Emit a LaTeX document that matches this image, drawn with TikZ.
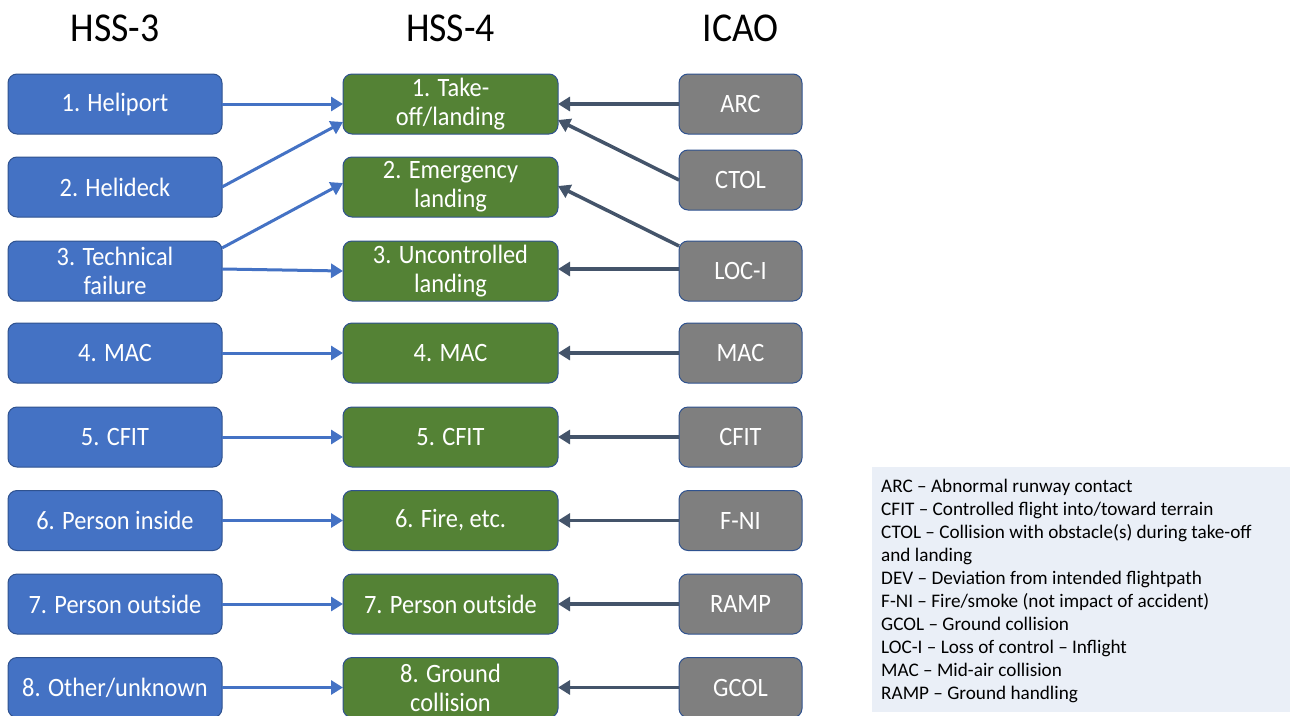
\documentclass[tikz,border=0pt]{standalone}
\usepackage{fontspec}
\setmainfont{Carlito}
\newfontfamily\narrowfont{Carlito}[FakeStretch=0.92]
\usetikzlibrary{arrows.meta}

\definecolor{hssblue}{HTML}{4472C4}
\definecolor{hssgreen}{HTML}{548235}
\definecolor{icaogrey}{HTML}{7F7F7F}
\definecolor{boxedge}{HTML}{2F528F}
\definecolor{slatearrow}{HTML}{44546A}
\definecolor{legendfill}{HTML}{EAEFF7}

\tikzset{
  catbox/.style={draw=boxedge, line width=1pt, rounded corners=9pt,
    minimum height=60pt, inner sep=0pt, outer sep=0pt, text=white,
    align=center, font=\narrowfont\fontsize{26.5}{29}\selectfont},
  hssthree/.style={catbox, fill=hssblue, minimum width=214pt},
  hssfour/.style={catbox, fill=hssgreen, minimum width=215pt},
  icao/.style={catbox, fill=icaogrey, minimum width=123pt},
  coltitle/.style={font=\narrowfont\fontsize{41}{48}\selectfont, inner sep=0pt},
  bluearrow/.style={draw=hssblue, line width=3pt, -{Triangle[length=12pt,width=14pt]}},
  greyarrow/.style={draw=slatearrow, line width=3.5pt, -{Triangle[length=12pt,width=14pt]}},
}

\begin{document}
\begin{tikzpicture}[x=1pt, y=-1pt]
  \useasboundingbox (0,0) rectangle (1290,715);

  % column headings
  \node[coltitle] (t3) at (115,28) {HSS-3};
  \node[coltitle] (t4) at (450.5,28) {HSS-4};
  \node[coltitle] (ti) at (740.5,28) {ICAO};

  % HSS-3 categories
  \node[hssthree] (b1) at (115,104) {1. Heliport};
  \node[hssthree] (b2) at (115,187) {2. Helideck};
  \node[hssthree] (b3) at (115,271) {3. Technical\\failure};
  \node[hssthree] (b4) at (115,353) {4. MAC};
  \node[hssthree] (b5) at (115,437) {5. CFIT};
  \node[hssthree] (b6) at (115,520.5) {6. Person inside};
  \node[hssthree] (b7) at (115,604) {7. Person outside};
  \node[hssthree] (b8) at (115,687.5) {8. Other/unknown};

  % HSS-4 categories
  \node[hssfour] (g1) at (450.5,104) {1. Take-\\off/landing};
  \node[hssfour] (g2) at (450.5,187) {2. Emergency\\landing};
  \node[hssfour] (g3) at (450.5,271) {3. Uncontrolled\\landing};
  \node[hssfour] (g4) at (450.5,353) {4. MAC};
  \node[hssfour] (g5) at (450.5,437) {5. CFIT};
  \node[hssfour] (g6) at (450.5,520.5) {6. Fire, etc.};
  \node[hssfour] (g7) at (450.5,604) {7. Person outside};
  \node[hssfour] (g8) at (450.5,687.5) {8. Ground\\collision};

  % ICAO occurrence categories
  \node[icao] (r1) at (740.5,104) {ARC};
  \node[icao] (r2) at (740.5,180) {CTOL};
  \node[icao] (r3) at (740.5,271) {LOC-I};
  \node[icao] (r4) at (740.5,353) {MAC};
  \node[icao] (r5) at (740.5,437) {CFIT};
  \node[icao] (r6) at (740.5,520.5) {F-NI};
  \node[icao] (r7) at (740.5,604) {RAMP};
  \node[icao] (r8) at (740.5,687.5) {GCOL};

  % HSS-3 -> HSS-4
  \draw[bluearrow] (b1.east) -- (g1.west);
  \draw[bluearrow] (b2.east) -- ([yshift=-18pt]g1.west);
  \draw[bluearrow] ([yshift=23pt]b3.east) -- ([yshift=4pt]g2.west);
  \draw[bluearrow] ([yshift=2pt]b3.east) -- (g3.west);
  \draw[bluearrow] (b4.east) -- (g4.west);
  \draw[bluearrow] (b5.east) -- (g5.west);
  \draw[bluearrow] (b6.east) -- (g6.west);
  \draw[bluearrow] (b7.east) -- (g7.west);
  \draw[bluearrow] (b8.east) -- (g8.west);

  % ICAO -> HSS-4
  \draw[greyarrow] (r1.west) -- (g1.east);
  \draw[greyarrow] (r2.west) -- ([yshift=-16pt]g1.east);
  \draw[greyarrow] ([yshift=25pt]r3.west) -- ([yshift=1pt]g2.east);
  \draw[greyarrow] ([yshift=2pt]r3.west) -- ([yshift=2pt]g3.east);
  \draw[greyarrow] (r4.west) -- (g4.east);
  \draw[greyarrow] (r5.west) -- (g5.east);
  \draw[greyarrow] (r6.west) -- (g6.east);
  \draw[greyarrow] (r7.west) -- (g7.east);
  \draw[greyarrow] (r8.west) -- (g8.east);

  % abbreviation key
  \node[fill=legendfill, minimum width=418pt, minimum height=245pt,
        inner sep=0pt, outer sep=0pt] (legend) at (1081,589.5) {};
  \node[anchor=north west, inner sep=0pt, align=left,
        font=\fontsize{19.2}{23}\selectfont]
    (legendtext) at ([xshift=9pt,yshift=-12pt]legend.north west)
    {ARC -- Abnormal runway contact\\
     CFIT -- Controlled flight into/toward terrain\\
     CTOL -- Collision with obstacle(s) during take-off\\
     and landing\\
     DEV -- Deviation from intended flightpath\\
     F-NI -- Fire/smoke (not impact of accident)\\
     GCOL -- Ground collision\\
     LOC-I -- Loss of control -- Inflight\\
     MAC -- Mid-air collision\\
     RAMP -- Ground handling};
\end{tikzpicture}
\end{document}
